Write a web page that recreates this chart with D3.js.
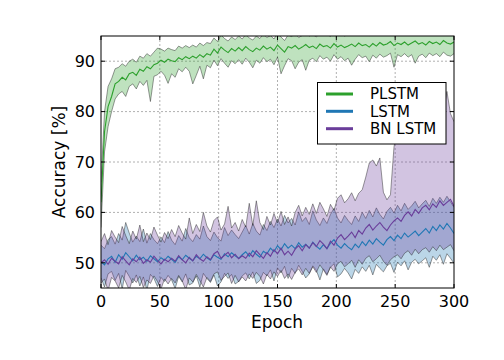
<!DOCTYPE html>
<html><head><meta charset="utf-8">
<script src="https://cdn.jsdelivr.net/npm/d3@7/dist/d3.min.js"></script>
<style>body{margin:0;background:#fff}svg{display:block}text{font-family:"DejaVu Sans",sans-serif}</style>
</head><body><svg id="c" width="504" height="360"></svg>
<script>
// epochs sampled every 3
const epochs = d3.range(0, 301, 3);
const xTicks = [0, 50, 100, 150, 200, 250, 300];
const yTicks = [50, 60, 70, 80, 90];
const seriesNames = ["PLSTM", "LSTM", "BN LSTM"];

const plstmMean = [62,76,81,83,85.5,86,86.8,86.3,87.5,87.8,
87.2,88.4,88.0,88.9,88.5,89.3,89.6,90.2,89.8,90.4,
90.1,89.9,90.7,90.3,90.9,90.5,91.0,90.6,91.3,90.8,
91.5,91.2,92.4,91.6,92.8,92.2,91.7,92.5,92.0,92.7,
92.1,92.9,92.3,91.9,92.6,92.2,93.0,92.4,92.8,92.1,
93.2,92.5,91.8,92.9,92.6,93.1,92.4,92.8,93.3,92.7,
93.0,92.5,93.4,92.9,93.1,92.6,93.5,92.8,93.2,92.7,
93.0,93.4,92.9,93.6,93.1,93.3,92.8,93.5,93.0,93.7,
93.2,93.4,93.9,93.1,93.6,93.3,93.8,93.2,93.6,94.0,
93.4,93.7,93.2,93.9,93.5,93.8,93.3,94.1,93.6,93.4,
93.8];
const plstmLo = [57,72,77,80,82.5,83.5,84,83,85,85.5,
84.5,86,85.2,86.2,82,87,87.3,88,87.2,85.6,
87.5,86.8,88.5,87.9,88.8,88,85.5,87.2,89,86.5,
89.2,88.7,90.2,89.1,90.5,89.6,88.8,90.1,89.5,90.3,
89.4,90.6,89.8,88.7,90.2,89.6,90.7,89.9,90.4,89.3,
90.8,87.5,89.1,90.5,90.1,88.5,89.8,90.3,88.2,90.2,
90.6,89.9,91.1,90.4,90.8,90.0,91.3,90.4,90.9,90.1,
90.6,89.2,90.4,91.3,90.7,91.0,89.9,91.2,90.6,91.4,
90.8,91.1,91.6,88.8,91.3,90.9,91.5,90.8,91.3,89.6,
91.0,91.4,90.7,91.6,91.1,91.5,90.9,91.8,91.2,91.0,
91.5];
const plstmHi = [66,80,85,86.5,88.5,88.8,89.5,89.0,90.0,90.4,
89.8,91.0,90.6,91.5,91.0,91.8,92.6,92.4,92.0,92.6,
92.3,92.1,93.0,92.6,93.1,92.7,93.2,92.8,93.6,93.1,
93.7,93.5,94.6,93.9,95.2,94.5,94.0,94.8,94.3,95.0,
94.4,95.3,94.6,94.2,95.0,94.5,95.4,94.7,95.1,94.4,
95.6,94.8,94.1,95.2,94.9,95.5,94.7,95.1,95.6,95.0,
95.3,94.8,95.7,95.2,95.4,94.9,95.8,95.1,95.5,95.0,
95.3,95.7,95.2,95.9,95.4,95.6,95.1,95.8,95.3,96.0,
95.5,95.7,96.2,95.4,95.9,95.6,96.1,95.5,95.9,96.3,
95.7,96.0,95.5,96.2,95.8,96.1,95.6,96.4,95.9,95.7,
96.1];

const lstmMean = [50.2,49.6,50.8,51.3,50.1,51.6,50.7,52.0,51.2,50.4,
51.5,50.6,51.1,50.3,51.4,50.8,50.2,51.0,50.5,51.3,
50.7,50.1,51.2,50.6,51.5,50.9,50.4,51.3,50.8,51.7,
51.0,50.5,51.6,51.1,50.7,51.8,51.2,52.0,51.4,50.9,
51.6,52.2,51.3,52.4,51.7,51.1,52.3,51.8,52.9,52.2,
53.4,52.6,53.8,52.9,53.5,52.8,54.0,53.1,53.7,52.9,
54.1,53.3,52.7,53.6,52.8,53.9,54.6,53.5,52.9,53.8,
53.1,52.6,53.7,53.0,54.2,53.4,54.5,53.7,54.8,54.1,
53.5,54.6,55.2,54.4,55.5,54.8,55.9,55.1,55.7,56.3,
55.4,56.1,56.8,55.9,57.2,56.4,57.5,56.7,57.8,56.9,
55.8];
const lstmLo = [47.0,45.2,47.8,48.3,46.5,47.9,44.8,48.5,47.3,46.0,
47.6,45.4,47.2,44.6,47.7,46.9,45.3,47.1,46.3,47.5,
46.6,44.9,47.3,46.2,47.8,45.6,46.0,47.4,45.2,47.9,
46.9,46.1,47.6,45.4,46.2,47.9,46.9,47.7,45.8,46.3,
47.4,48.0,46.8,48.2,45.9,46.5,48.1,47.4,48.6,46.4,
49.0,48.0,49.3,46.9,48.9,47.9,49.5,48.3,47.0,47.8,
49.4,48.5,46.6,48.8,47.7,49.1,49.8,47.2,47.8,48.9,
48.0,46.8,48.7,47.9,49.2,48.3,49.5,47.6,49.7,48.9,
48.2,49.4,49.9,48.1,50.1,49.4,50.4,48.6,50.1,50.7,
49.8,50.4,51.0,49.1,51.3,50.5,51.6,49.7,51.8,50.9,
49.9];
const lstmHi = [53.5,52.8,54.6,55.2,53.7,55.8,54.5,58.0,55.9,54.1,
55.3,54.2,56.7,53.9,55.8,54.6,53.8,55.1,54.0,56.2,
54.5,53.6,55.4,54.3,56.8,55.0,54.2,55.6,54.7,57.3,
55.2,54.4,56.1,55.0,54.3,57.0,55.4,56.5,55.6,54.8,
56.1,57.4,55.7,57.8,56.3,55.5,57.6,56.4,58.2,57.0,
58.7,57.3,59.4,57.9,58.8,57.5,60.1,58.2,59.0,57.6,
60.3,58.5,57.4,58.9,57.8,59.6,60.8,58.9,57.9,59.4,
58.4,57.6,59.3,58.2,60.0,58.8,60.4,59.1,60.9,59.6,
58.7,60.2,61.0,59.9,61.4,60.3,61.8,60.6,61.3,62.2,
60.9,61.7,62.4,61.2,62.8,61.8,63.0,62.0,63.2,62.1,
61.0];

const bnMean = [50.0,50.6,49.7,50.9,50.3,49.8,51.2,50.4,49.6,50.8,
50.2,51.1,49.9,50.6,50.1,51.3,50.5,49.8,50.7,50.2,
50.9,50.3,51.4,50.6,50.0,51.1,50.4,51.6,50.8,50.3,
51.2,50.6,51.8,52.3,50.9,51.5,52.1,51.0,51.7,50.8,
51.4,50.9,51.9,51.2,52.4,51.6,50.9,52.0,51.3,52.6,
51.8,52.9,51.6,52.3,51.5,52.7,53.4,52.4,53.6,52.9,
54.0,53.2,54.4,53.7,52.8,54.3,53.5,54.9,55.6,54.6,
55.3,56.1,55.0,56.4,55.7,56.9,57.6,56.5,57.3,58.0,
57.1,56.4,57.5,58.3,58.9,58.2,59.4,60.1,59.3,60.6,
59.8,60.9,61.4,60.5,61.7,61.0,62.3,61.4,62.0,62.6,
61.2];
const bnLo = [46.0,46.8,44.5,47.1,46.4,45.0,47.5,46.2,44.6,46.9,
46.1,47.3,45.1,46.6,45.9,47.4,46.3,44.8,46.8,45.8,
46.9,46.0,47.5,46.4,44.7,47.0,46.2,47.7,46.5,45.2,
47.1,46.3,47.8,48.2,46.5,47.3,48.0,45.9,47.5,46.2,
47.2,46.4,47.8,46.9,48.1,47.3,45.8,47.7,46.8,48.2,
47.3,48.5,46.9,47.8,46.7,48.1,48.8,47.6,48.9,47.9,
49.2,48.1,49.6,48.6,47.5,49.2,48.3,49.8,50.3,49.2,
49.8,50.5,49.1,50.6,49.7,50.9,51.4,50.2,50.8,51.5,
50.3,49.5,50.6,51.2,51.6,50.8,51.9,52.4,51.5,52.7,
51.8,52.6,53.0,52.1,53.2,52.4,53.5,52.6,53.1,53.6,
52.4];
const bnHi = [54.2,55.8,53.6,56.4,55.1,54.0,57.2,55.4,53.8,56.3,
54.7,57.5,54.2,55.9,54.6,57.1,55.5,54.1,56.0,54.8,
56.6,55.2,57.4,55.9,54.7,58.9,55.8,57.6,56.2,60.0,
57.3,56.1,58.4,59.1,56.5,57.7,61.2,56.9,58.0,56.3,
58.6,57.1,61.8,57.4,62.3,58.0,56.6,59.2,57.5,59.8,
57.9,60.2,57.6,59.1,57.3,60.0,61.4,59.3,61.0,59.6,
61.7,59.8,62.0,60.7,59.2,61.6,60.4,62.8,63.5,61.9,
62.7,63.9,62.3,63.8,64.5,67.0,69.8,70.4,69.2,70.8,
64.0,62.5,63.5,73.0,77.0,80.5,83.0,81.2,84.5,82.0,
79.8,81.6,78.7,80.9,83.2,79.5,81.8,80.2,84.0,79.6,
78.0];

const colors = {PLSTM: "#2ca02c", LSTM: "#1f77b4", "BN LSTM": "#6a3d9a"};
const series = [
  {name: "LSTM", mean: lstmMean, lo: lstmLo, hi: lstmHi},
  {name: "BN LSTM", mean: bnMean, lo: bnLo, hi: bnHi},
  {name: "PLSTM", mean: plstmMean, lo: plstmLo, hi: plstmHi}
];

const L = 101, R = 454, T = 36, B = 288;
const svg = d3.select("#c");
const x = d3.scaleLinear().domain([0, 300]).range([L, R]);
const y = d3.scaleLinear().domain([45, 95]).range([B, T]);

svg.append("defs").append("clipPath").attr("id", "clip")
  .append("rect").attr("x", L).attr("y", T).attr("width", R - L).attr("height", B - T);

// grid
const grid = svg.append("g");
xTicks.slice(1, -1).forEach(t => grid.append("line").attr("x1", x(t)).attr("x2", x(t)).attr("y1", T).attr("y2", B));
yTicks.forEach(t => grid.append("line").attr("x1", L).attr("x2", R).attr("y1", y(t)).attr("y2", y(t)));
grid.selectAll("line").attr("stroke", "#b0b0b0").attr("stroke-width", 1).attr("stroke-dasharray", "2,2");

const plot = svg.append("g").attr("clip-path", "url(#clip)");
const area = d3.area().x((d, i) => x(epochs[i])).y0(d => y(d[0])).y1(d => y(d[1]));
const line = d3.line().x((d, i) => x(epochs[i])).y(d => y(d));

series.forEach(s => {
  const pairs = s.lo.map((v, i) => [v, s.hi[i]]);
  plot.append("path").attr("d", area(pairs)).attr("fill", colors[s.name]).attr("fill-opacity", 0.3);
  [s.lo, s.hi].forEach(arr => plot.append("path").attr("d", line(arr))
    .attr("fill", "none").attr("stroke", "#222").attr("stroke-opacity", 0.45).attr("stroke-width", 1));
});
series.forEach(s => {
  plot.append("path").attr("d", line(s.mean)).attr("fill", "none")
    .attr("stroke", colors[s.name]).attr("stroke-width", 1.1);
});

// frame + ticks
const ax = svg.append("g");
ax.append("rect").attr("x", L).attr("y", T).attr("width", R - L).attr("height", B - T)
  .attr("fill", "none").attr("stroke", "#000").attr("stroke-width", 1);
xTicks.forEach(t => {
  ax.append("line").attr("x1", x(t)).attr("x2", x(t)).attr("y1", B).attr("y2", B - 4).attr("stroke", "#000");
  ax.append("line").attr("x1", x(t)).attr("x2", x(t)).attr("y1", T).attr("y2", T + 4).attr("stroke", "#000");
  ax.append("text").attr("x", x(t)).attr("y", 307).attr("text-anchor", "middle")
    .attr("font-size", 16).text(t);
});
yTicks.forEach(t => {
  ax.append("line").attr("x1", L).attr("x2", L + 4).attr("y1", y(t)).attr("y2", y(t)).attr("stroke", "#000");
  ax.append("line").attr("x1", R).attr("x2", R - 4).attr("y1", y(t)).attr("y2", y(t)).attr("stroke", "#000");
  ax.append("text").attr("x", 95).attr("y", y(t)).attr("dy", "0.36em").attr("text-anchor", "end")
    .attr("font-size", 16).text(t);
});
svg.append("text").attr("x", 277).attr("y", 328).attr("text-anchor", "middle").attr("font-size", 17).text("Epoch");
svg.append("text").attr("transform", "translate(65,162) rotate(-90)").attr("text-anchor", "middle")
  .attr("font-size", 17).text("Accuracy [%]");

// legend
const lg = svg.append("g");
lg.append("rect").attr("x", 317.5).attr("y", 82.5).attr("width", 128.5).attr("height", 61.5)
  .attr("fill", "#fff").attr("stroke", "#000").attr("stroke-width", 1);
const legendY = [94, 111.3, 128.7];
seriesNames.forEach((n, i) => {
  lg.append("line").attr("x1", 326).attr("x2", 353).attr("y1", legendY[i]).attr("y2", legendY[i])
    .attr("stroke", colors[n]).attr("stroke-width", 3);
  lg.append("text").attr("x", 370).attr("y", legendY[i]).attr("dy", "0.36em").attr("font-size", 15).text(n);
});
</script></body></html>
